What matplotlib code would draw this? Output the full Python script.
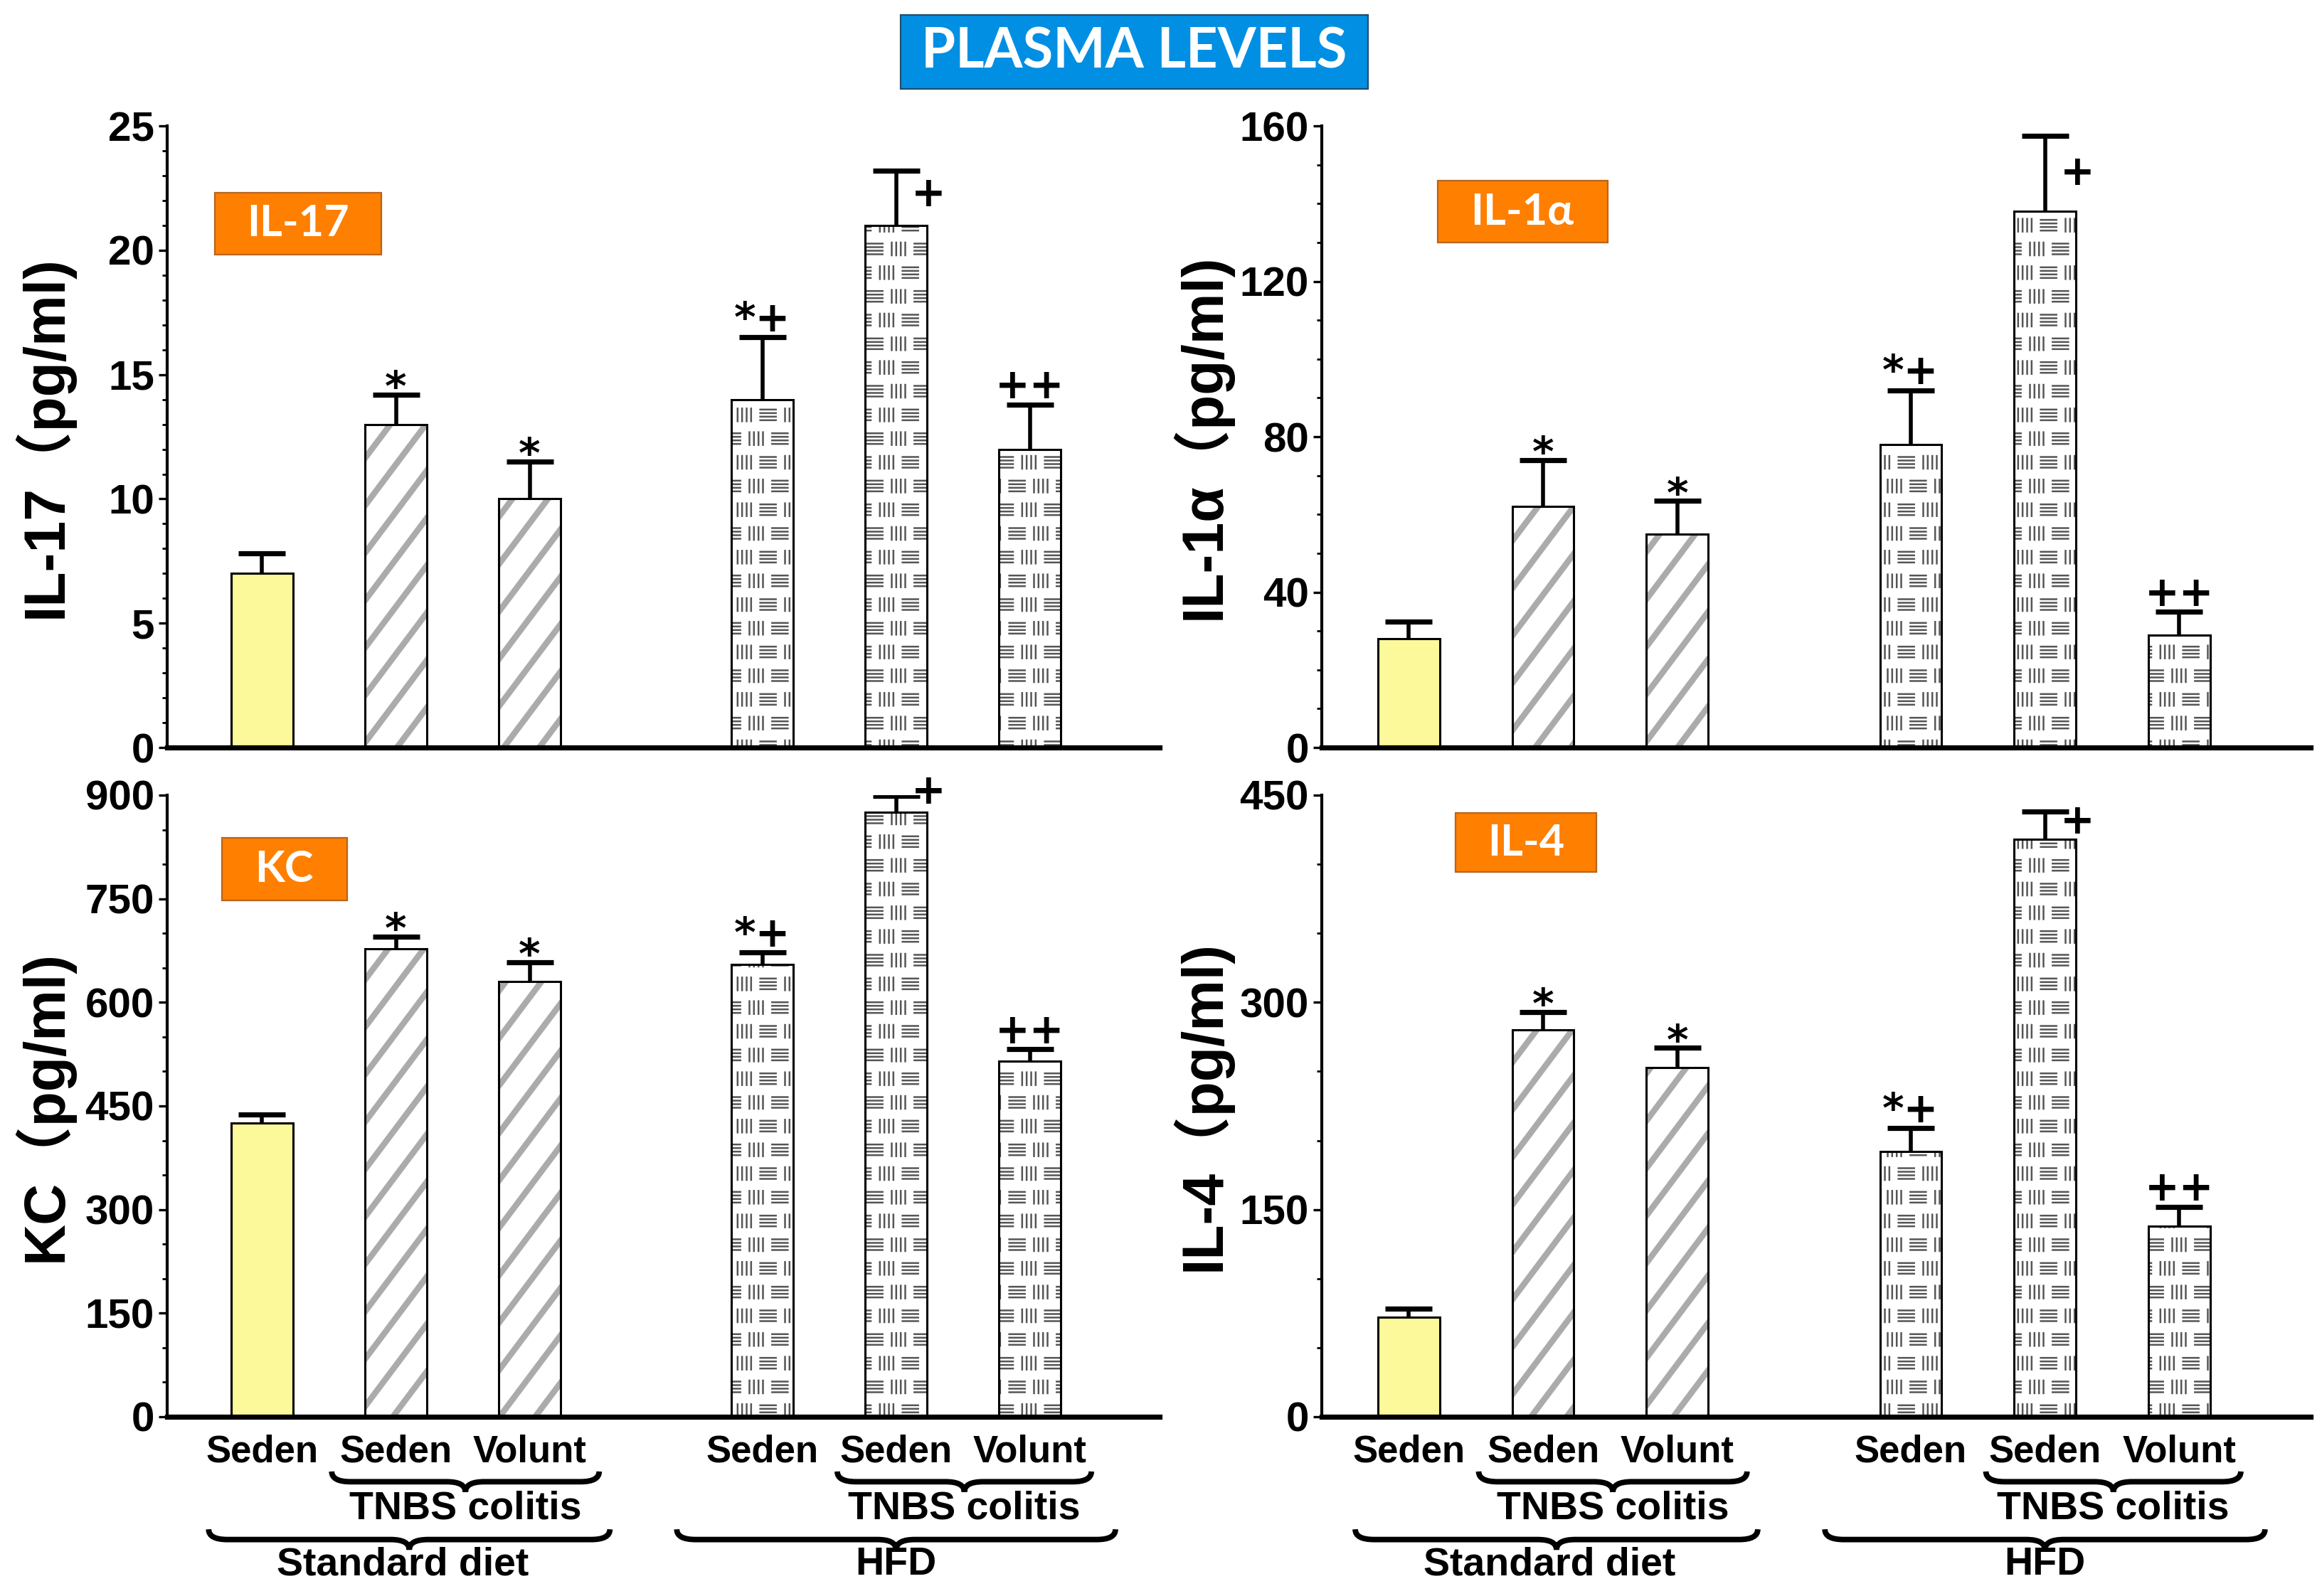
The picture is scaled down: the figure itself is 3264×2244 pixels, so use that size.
import numpy as np
import matplotlib
matplotlib.use('Agg')
import matplotlib.pyplot as plt
import matplotlib.hatch as mhatch
from matplotlib.path import Path
from matplotlib.patches import PathPatch, Rectangle
from matplotlib import transforms, font_manager
from matplotlib.ticker import MultipleLocator

# ---- data ----
groups = ['Seden', 'Seden', 'Volunt', 'Seden', 'Seden', 'Volunt']
sig = ['', '*', '*', '*+', '+', '++']

il17 = [7.0, 13.0, 10.0, 14.0, 21.0, 12.0]
il17_err = [0.8, 1.2, 1.5, 2.5, 2.2, 1.8]

il1a = [28, 62, 55, 78, 138, 29]
il1a_err = [4.5, 12, 8.5, 14, 19.5, 6]

kc = [425, 678, 630, 655, 875, 515]
kc_err = [13, 17, 28, 17, 24, 17]

il4 = [72, 280, 253, 192, 418, 138]
il4_err = [6, 13, 14, 17, 20, 14]

xpos = np.array([0, 1, 2, 3.74, 4.74, 5.74])


# ---- custom hatches: grey diagonal bands ('/') and basket weave ('x') ----
class DiagBands(mhatch.HatchPatternBase):
    def __init__(self, hatch, density):
        self.on = hatch.count('/') > 0
        self.ks = list(range(-5, 4)) if self.on else []
        self.num_vertices = 5 * len(self.ks)

    def set_vertices_and_codes(self, vertices, codes):
        s, p, h = 4.0 / 3.0, 1.0 / 3.0, 0.05
        for n, k in enumerate(self.ks):
            c = k * p
            vertices[5*n:5*n+5] = [(0, c), (1, c + s), (1, c + s + h), (0, c + h), (0, c)]
            codes[5*n:5*n+5] = [Path.MOVETO, Path.LINETO, Path.LINETO, Path.LINETO, Path.CLOSEPOLY]


class BasketWeave(mhatch.HatchPatternBase):
    def __init__(self, hatch, density):
        self.on = hatch.count('x') > 0
        self.num_vertices = 6 * 3 * 8 * 2 if self.on else 0

    def set_vertices_and_codes(self, vertices, codes):
        P, R, px = 1.0 / 3.0, 1.0 / 6.0, 1.0 / 200.0
        segs = []
        for r in range(6):
            yc = r * R + R / 2
            shift = (r % 2) * P / 4
            for j in range(3):
                cx = j * P + shift + 0.195 * P
                for dy in (-7.5, -2.5, 2.5, 7.5):
                    segs.append(((cx - 11 * px, yc + dy * px), (cx + 11 * px, yc + dy * px)))
                cv = cx + P / 2
                for dx in (-9.5, -3.2, 3.2, 9.5):
                    xv = (cv + dx * px) % 1.0
                    segs.append(((xv, yc - 9 * px), (xv, yc + 9 * px)))
        for n, (a, b) in enumerate(segs):
            vertices[2*n] = a
            vertices[2*n+1] = b
            codes[2*n] = Path.MOVETO
            codes[2*n+1] = Path.LINETO


mhatch._hatch_types = [DiagBands, BasketWeave]

names = {f.name for f in font_manager.fontManager.ttflist}
narrow = 'Liberation Sans Narrow' if 'Liberation Sans Narrow' in names else 'Liberation Sans'
cat_size = 24 if narrow == 'Liberation Sans Narrow' else 19

plt.rcParams['font.family'] = ['Liberation Sans', 'Noto Sans CJK SC', 'DejaVu Sans']
plt.rcParams['font.weight'] = 'bold'
plt.rcParams['hatch.linewidth'] = 0.9

yellow = '#FBF99A'
diag_grey = '#ababab'
weave_grey = '#555555'
orange = '#FF7F00'

fig = plt.figure(figsize=(16.32, 11.22), dpi=200)

panels = [
    dict(pos=[0.072, 0.5316, 0.4274, 0.3895], xlim=(-0.71, 6.71), vals=il17, errs=il17_err,
         top=25, major=5, minor=1, ylabel='IL-17（pg/ml)', name='IL-17',
         box=(0.048, 0.793, 0.168, 0.10), labx=-0.094, plus_dy=-12, bottom=False),
    dict(pos=[0.5692, 0.5316, 0.4259, 0.3895], xlim=(-0.65, 6.72), vals=il1a, errs=il1a_err,
         top=160, major=40, minor=10, ylabel='IL-1α（pg/ml)', name='IL-1α',
         box=(0.117, 0.812, 0.172, 0.10), labx=-0.091, plus_dy=-19, bottom=False),
    dict(pos=[0.072, 0.1123, 0.4274, 0.3895], xlim=(-0.71, 6.71), vals=kc, errs=kc_err,
         top=900, major=150, minor=50, ylabel='KC（pg/ml)', name='KC',
         box=(0.055, 0.831, 0.126, 0.10), labx=-0.094, plus_dy=2, bottom=True),
    dict(pos=[0.5692, 0.1123, 0.4259, 0.3895], xlim=(-0.65, 6.72), vals=il4, errs=il4_err,
         top=450, major=150, minor=50, ylabel='IL-4（pg/ml)', name='IL-4',
         box=(0.135, 0.876, 0.143, 0.095), labx=-0.091, plus_dy=-5, bottom=True),
]


def brace(ax, x0, x1, y, h):
    tr = transforms.blended_transform_factory(ax.transData, ax.transAxes)
    xm = (x0 + x1) / 2
    q = 0.14
    ym = y - h / 2
    yb = y - h
    verts = [(x0, y), (x0, ym), (x0 + q, ym), (xm - q, ym), (xm, ym), (xm, yb),
             (xm, ym), (xm + q, ym), (x1 - q, ym), (x1, ym), (x1, y)]
    codes = [Path.MOVETO, Path.CURVE3, Path.CURVE3, Path.LINETO, Path.CURVE3, Path.CURVE3,
             Path.CURVE3, Path.CURVE3, Path.LINETO, Path.CURVE3, Path.CURVE3]
    ax.add_patch(PathPatch(Path(verts, codes), transform=tr, fill=False, lw=2.8,
                           edgecolor='k', clip_on=False))


for p in panels:
    ax = fig.add_axes(p['pos'])
    vals = np.array(p['vals'], dtype=float)
    errs = np.array(p['errs'], dtype=float)
    w = 0.46
    for i in range(6):
        if i == 0:
            ax.bar(xpos[i], vals[i], w, color=yellow, edgecolor='k', lw=1.1, zorder=2)
            continue
        h = '/' if i < 3 else 'x'
        hc = diag_grey if i < 3 else weave_grey
        ax.bar(xpos[i], vals[i], w, color='white', edgecolor=hc, hatch=h, lw=0, zorder=2)
        ax.bar(xpos[i], vals[i], w, fill=False, edgecolor='k', lw=1.1, zorder=3)

    eb = ax.errorbar(xpos, vals, yerr=[np.zeros(6), errs], fmt='none', ecolor='k',
                     elinewidth=2.0, capsize=12, capthick=2.6, zorder=4)
    eb[1][0].set_visible(False)

    for i in range(6):
        s = sig[i]
        if not s:
            continue
        ytop = vals[i] + errs[i]
        if s == '+':
            ax.annotate(s, xy=(xpos[i], ytop), xytext=(16.5, p['plus_dy']), textcoords='offset points',
                        ha='center', va='center', fontsize=21, family='DejaVu Sans',
                        fontweight='bold', annotation_clip=False)
        else:
            dy = -3 if s == '*' else 3
            ax.annotate(s, xy=(xpos[i], ytop), xytext=(0, dy), textcoords='offset points',
                        ha='center', va='baseline', fontsize=21, family='DejaVu Sans',
                        fontweight='bold', annotation_clip=False)

    ax.set_xlim(*p['xlim'])
    ax.set_ylim(0, p['top'])
    ax.yaxis.set_major_locator(MultipleLocator(p['major']))
    ax.yaxis.set_minor_locator(MultipleLocator(p['minor']))
    for sp in ('top', 'right'):
        ax.spines[sp].set_visible(False)
    ax.spines['left'].set_linewidth(1.5)
    ax.spines['bottom'].set_linewidth(2.6)
    ax.tick_params(axis='y', which='major', length=4.5, width=1.2, labelsize=21, pad=2)
    ax.tick_params(axis='y', which='minor', length=2.6, width=1.0)
    ax.tick_params(axis='x', length=0, pad=9)

    ax.set_ylabel(p['ylabel'], fontsize=29, fontweight='bold')
    ax.yaxis.set_label_coords(p['labx'], 0.5)

    bx, by, bw, bh = p['box']
    ax.add_patch(Rectangle((bx, by), bw, bh, transform=ax.transAxes, facecolor=orange,
                           edgecolor='#b8641e', lw=0.8, zorder=5))
    ax.text(bx + bw / 2, by + bh / 2, p['name'], transform=ax.transAxes, ha='center',
            va='center', color='white', fontsize=22, family='Lato', fontweight='bold', zorder=6)

    if p['bottom']:
        ax.set_xticks(xpos, groups)
        for lab in ax.get_xticklabels():
            lab.set_family(narrow)
            lab.set_fontsize(cat_size)
            lab.set_fontweight('bold')
        tr = transforms.blended_transform_factory(ax.transData, ax.transAxes)
        brace(ax, 0.52, 2.52, -0.088, 0.033)
        brace(ax, 4.3, 6.2, -0.088, 0.033)
        brace(ax, -0.4, 2.6, -0.181, 0.033)
        brace(ax, 3.1, 6.38, -0.181, 0.033)
        for xt, yt, t in [(1.52, -0.148, 'TNBS colitis'), (5.25, -0.148, 'TNBS colitis'),
                          (1.05, -0.238, 'Standard diet'), (4.74, -0.238, 'HFD')]:
            ax.text(xt, yt, t, transform=tr, ha='center', va='center', fontsize=cat_size + 1,
                    family=narrow, fontweight='bold', clip_on=False)
    else:
        ax.set_xticks([])

# title box
fig.add_artist(Rectangle((0.3879, 0.9443), 0.2013, 0.0463, transform=fig.transFigure,
                         facecolor='#008FE3', edgecolor='#1d4e70', lw=0.8))
fig.text(0.4885, 0.9672, 'PLASMA LEVELS', ha='center', va='center', color='white',
         fontsize=28, family='Lato', fontweight='bold')

fig.savefig('out.png', dpi=200)
